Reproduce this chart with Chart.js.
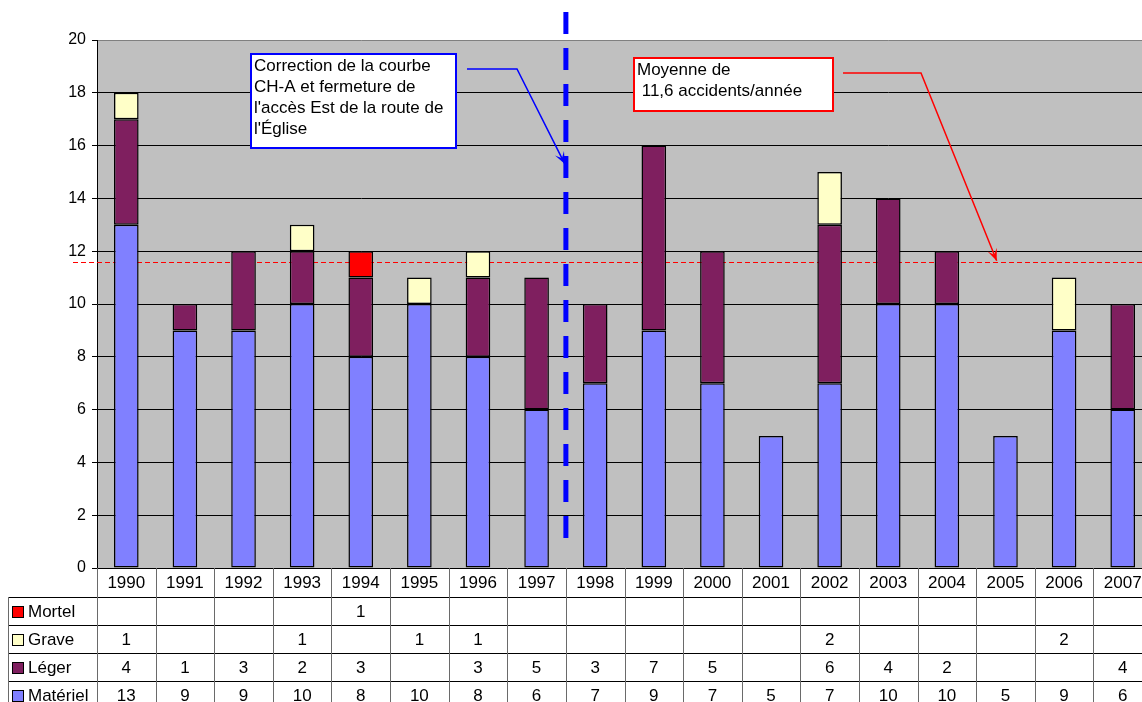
<!DOCTYPE html>
<html lang="fr">
<head>
<meta charset="utf-8">
<title>Accidents par année</title>
<script src="https://cdn.jsdelivr.net/npm/chart.js@4.4.1/dist/chart.umd.min.js"></script>
<style>
  html, body { margin: 0; padding: 0; background: #fff; overflow: hidden; }
  #wrap { width: 1160px; height: 702px; }
</style>
</head>
<body>
<div id="wrap"><canvas id="c" width="1160" height="702"></canvas></div>
<script>
// Années et nombre d'accidents par gravité
const annees   = ['1990','1991','1992','1993','1994','1995','1996','1997','1998','1999','2000','2001','2002','2003','2004','2005','2006','2007'];
const materiel = [13, 9, 9, 10, 8, 10, 8, 6, 7, 9, 7, 5, 7, 10, 10, 5, 9, 6];
const leger    = [4, 1, 3, 2, 3, null, 3, 5, 3, 7, 5, null, 6, 4, 2, null, null, 4];
const grave    = [1, null, null, 1, null, 1, 1, null, null, null, null, null, 2, null, null, null, 2, null];
const mortel   = [null, null, null, null, 1, null, null, null, null, null, null, null, null, null, null, null, null, null];
const moyenne  = 11.6;            // accidents par année
const coupure  = 7.5;             // entre 1997 et 1998
const yMin = 0, yMax = 20, yPas = 2;

const FONT = 'Arial, "Liberation Sans", sans-serif';
Chart.defaults.font.family = FONT;
Chart.defaults.color = '#000';

const couleurs = {
  materiel: '#8080FF',
  leger: '#7F1F5F',
  grave: '#FFFFC8',
  mortel: '#FF0000'
};

// Lignes du tableau de données, de haut en bas
const lignesTableau = [
  { nom: 'Mortel',   valeurs: mortel,   couleur: couleurs.mortel },
  { nom: 'Grave',    valeurs: grave,    couleur: couleurs.grave },
  { nom: 'Léger',    valeurs: leger,    couleur: couleurs.leger },
  { nom: 'Matériel', valeurs: materiel, couleur: couleurs.materiel }
];

const fondZone = {
  id: 'fondZone',
  beforeDraw(chart) {
    const { ctx, chartArea: a } = chart;
    ctx.save();
    ctx.fillStyle = '#fff';
    ctx.fillRect(0, 0, chart.width, chart.height);
    ctx.fillStyle = '#C0C0C0';
    ctx.fillRect(a.left, a.top, a.right - a.left, a.bottom - a.top);
    ctx.restore();
  },
  // Ligne de la moyenne, passée derrière les barres
  beforeDatasetsDraw(chart) {
    const { ctx, scales: { y: ys } } = chart;
    const ym = Math.round(ys.getPixelForValue(moyenne)) + 0.5;
    ctx.save();
    ctx.strokeStyle = '#FF0000';
    ctx.lineWidth = 1;
    ctx.setLineDash([5, 3]);
    ctx.beginPath();
    ctx.moveTo(73, ym);
    ctx.lineTo(chart.width, ym);
    ctx.stroke();
    ctx.restore();
  }
};

function fleche(ctx, pts, couleur) {
  ctx.save();
  ctx.strokeStyle = couleur;
  ctx.fillStyle = couleur;
  ctx.lineWidth = 1.5;
  ctx.beginPath();
  ctx.moveTo(pts[0][0], pts[0][1]);
  for (let i = 1; i < pts.length; i++) ctx.lineTo(pts[i][0], pts[i][1]);
  ctx.stroke();
  const [x1, y1] = pts[pts.length - 2];
  const [x2, y2] = pts[pts.length - 1];
  const a = Math.atan2(y2 - y1, x2 - x1);
  const L = 12, W = 5;
  const c = Math.cos(a), s = Math.sin(a);
  ctx.beginPath();
  ctx.moveTo(x2, y2);
  ctx.lineTo(x2 - L * c + W * s, y2 - L * s - W * c);
  ctx.lineTo(x2 - L * 0.55 * c, y2 - L * 0.55 * s);
  ctx.lineTo(x2 - L * c - W * s, y2 - L * s + W * c);
  ctx.closePath();
  ctx.fill();
  ctx.restore();
}

function boite(ctx, x, y, w, h, couleur, lignes, tx, ty0, pas) {
  ctx.save();
  ctx.fillStyle = '#fff';
  ctx.fillRect(x, y, w, h);
  ctx.strokeStyle = couleur;
  ctx.lineWidth = 2;
  ctx.strokeRect(x, y, w, h);
  ctx.fillStyle = '#000';
  ctx.font = '17px ' + FONT;
  ctx.textBaseline = 'middle';
  ctx.textAlign = 'left';
  lignes.forEach((t, i) => ctx.fillText(t, tx, ty0 + i * pas));
  ctx.restore();
}

const annotations = {
  id: 'annotations',
  afterDatasetsDraw(chart) {
    const { ctx, chartArea: a, scales: { x: xs, y: ys } } = chart;

    // Séparation avant / après la correction
    const xc = xs.getPixelForValue(coupure);
    ctx.save();
    ctx.strokeStyle = '#0000FF';
    ctx.lineWidth = 5;
    ctx.setLineDash([22, 14]);
    ctx.beginPath();
    ctx.moveTo(xc, a.top - 28);
    ctx.lineTo(xc, ys.getPixelForValue(0.75));
    ctx.stroke();
    ctx.restore();

    // Encadré de la correction
    boite(ctx, 251, 54, 205, 94, '#0000FF', [
      'Correction de la courbe',
      'CH-A et fermeture de',
      "l'accès Est de la route de",
      "l'Église"
    ], 254, 66, 21);
    fleche(ctx, [[467, 69], [517, 69], [xc - 1, ys.getPixelForValue(15.3)]], '#0000FF');

    // Encadré de la moyenne
    boite(ctx, 634, 58, 199, 53, '#FF0000', [
      'Moyenne de',
      ' 11,6 accidents/année'
    ], 637, 70, 21);
    fleche(ctx, [[843, 73], [921, 73], [xs.getPixelForValue(14.85), ys.getPixelForValue(moyenne) - 1]], '#FF0000');
  }
};

const tableau = {
  id: 'tableau',
  afterDraw(chart) {
    const { ctx, chartArea: a, scales: { x: xs } } = chart;
    const haut = a.bottom;
    const hEntete = 29, hLigne = 28;
    const gauche = 8;
    const droite = chart.width;
    const bord = i => Math.round(xs.getPixelForValue(i - 0.5)) + 0.5;

    ctx.save();
    // Lignes horizontales
    ctx.strokeStyle = '#000';
    ctx.lineWidth = 1;
    ctx.beginPath();
    ctx.moveTo(a.left, haut + 0.5);
    ctx.lineTo(droite, haut + 0.5);
    for (let r = 0; r <= lignesTableau.length; r++) {
      const y = haut + hEntete + r * hLigne + 0.5;
      ctx.moveTo(gauche, y);
      ctx.lineTo(droite, y);
    }
    ctx.stroke();

    // Lignes verticales
    ctx.strokeStyle = '#6a6a6a';
    ctx.beginPath();
    for (let i = 0; i <= annees.length; i++) {
      const x = bord(i);
      ctx.moveTo(x, haut);
      ctx.lineTo(x, chart.height);
    }
    ctx.moveTo(gauche + 0.5, haut + hEntete);
    ctx.lineTo(gauche + 0.5, chart.height);
    ctx.stroke();

    // Années
    ctx.fillStyle = '#000';
    ctx.font = '17px ' + FONT;
    ctx.textAlign = 'center';
    ctx.textBaseline = 'middle';
    annees.forEach((an, i) => ctx.fillText(an, xs.getPixelForValue(i), haut + hEntete / 2 + 1));

    // Lignes de données avec leur légende
    lignesTableau.forEach((lg, r) => {
      const yc = haut + hEntete + r * hLigne + hLigne / 2 + 1;
      const yq = Math.round(yc - 6) + 0.5;
      ctx.fillStyle = lg.couleur;
      ctx.fillRect(12.5, yq, 11, 11);
      ctx.strokeStyle = '#000';
      ctx.lineWidth = 1;
      ctx.strokeRect(12.5, yq, 11, 11);
      ctx.fillStyle = '#000';
      ctx.textAlign = 'left';
      ctx.fillText(lg.nom, 28, yc);
      ctx.textAlign = 'center';
      lg.valeurs.forEach((v, i) => {
        if (v !== null) ctx.fillText(String(v), xs.getPixelForValue(i), yc);
      });
    });
    ctx.restore();
  }
};

const serie = (label, data, couleur) => ({
  label, data,
  backgroundColor: couleur,
  borderColor: '#000',
  borderWidth: 1.5,
  borderSkipped: false,
  barPercentage: 0.42,
  categoryPercentage: 1
});

new Chart(document.getElementById('c'), {
  type: 'bar',
  data: {
    labels: annees,
    datasets: [
      serie('Matériel', materiel, couleurs.materiel),
      serie('Léger', leger, couleurs.leger),
      serie('Grave', grave, couleurs.grave),
      serie('Mortel', mortel, couleurs.mortel)
    ]
  },
  options: {
    responsive: false,
    devicePixelRatio: 1,
    animation: false,
    layout: { padding: { top: 40, right: 8, bottom: 134, left: 0 } },
    plugins: { legend: { display: false }, tooltip: { enabled: false } },
    scales: {
      x: { stacked: true, display: false },
      y: {
        stacked: true,
        min: yMin,
        max: yMax,
        ticks: { stepSize: yPas, color: '#000', font: { size: 16 }, padding: 6 },
        grid: {
          color: c => (c.tick && c.tick.value === yMax ? '#808080' : '#000'),
          tickColor: '#000',
          tickLength: 5,
          lineWidth: 1
        },
        border: { color: '#000', width: 1 },
        afterFit: s => { s.width = 97; }
      }
    }
  },
  plugins: [fondZone, annotations, tableau]
});
</script>
</body>
</html>
